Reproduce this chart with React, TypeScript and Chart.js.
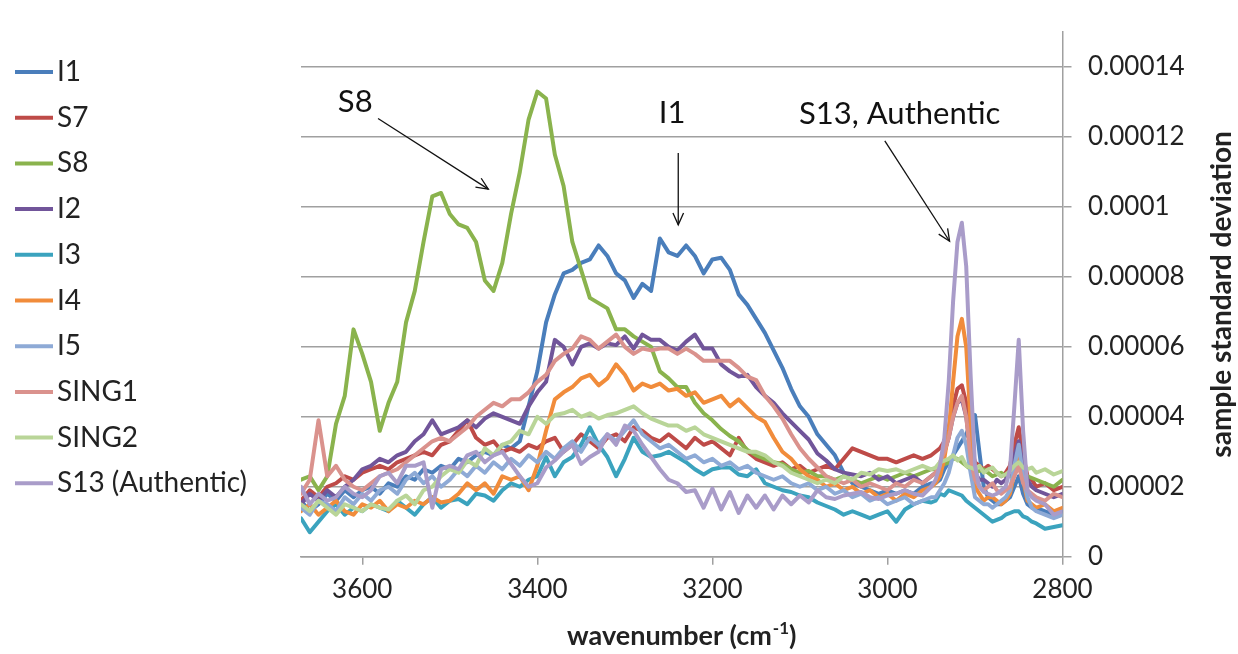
import React, { useEffect, useRef } from "react";
import { Chart, registerables } from "chart.js";

Chart.register(...registerables);

// x grid (cm^-1), finer sampling around the C-H peaks
const WAVENUMBERS = [
  3670, 3660, 3650, 3640, 3630, 3620, 3610, 3600, 3590, 3580,
  3570, 3560, 3550, 3540, 3530, 3520, 3510, 3500, 3490, 3480,
  3470, 3460, 3450, 3440, 3430, 3420, 3410, 3400, 3390, 3380,
  3370, 3360, 3350, 3340, 3330, 3320, 3310, 3300, 3290, 3280,
  3270, 3260, 3250, 3240, 3230, 3220, 3210, 3200, 3190, 3180,
  3170, 3160, 3150, 3140, 3130, 3120, 3110, 3100, 3090, 3080,
  3070, 3060, 3050, 3040, 3030, 3020, 3010, 3000, 2990, 2980,
  2970, 2960, 2950, 2945, 2940, 2935, 2930, 2925, 2920, 2915,
  2910, 2905, 2900, 2895, 2890, 2885, 2880, 2875, 2870, 2865,
  2860, 2855, 2850, 2845, 2840, 2835, 2830, 2820, 2810, 2800,
];

// values in units of 1e-5
const UNIT = 1e-5;

const I1 = [
  1.6, 1.3, 1.5, 1.8, 1.6, 1.9, 1.7, 1.9, 2.0, 1.8,
  2.1, 2.0, 2.3, 2.2, 2.5, 2.4, 2.6, 2.5, 2.8, 2.7,
  2.9, 3.0, 2.9, 3.2, 3.1, 3.3, 4.3, 5.3, 6.7, 7.5,
  8.1, 8.2, 8.4, 8.5, 8.9, 8.6, 8.1, 7.9, 7.4, 7.8,
  7.6, 9.1, 8.7, 8.6, 8.9, 8.6, 8.1, 8.5, 8.55, 8.2,
  7.5, 7.2, 6.8, 6.4, 5.9, 5.4, 4.8, 4.3, 4.0, 3.5,
  3.2, 2.9, 2.4, 2.1, 2.0, 1.9, 1.8, 1.9, 1.8, 1.9,
  1.8, 2.0, 2.1, 2.1, 2.2, 2.5, 2.7, 2.9, 3.1, 3.3,
  3.5, 3.8, 4.05, 3.0, 2.0, 1.7, 1.6, 1.5, 1.5, 1.6,
  1.7, 2.0, 2.3, 1.8, 1.5, 1.4, 1.4, 1.3, 1.2, 1.3,
];

const S7 = [
  1.6, 1.9, 1.7, 2.0, 2.1, 2.3, 2.2, 2.4, 2.5, 2.6,
  2.5, 2.7, 2.8, 2.9, 3.0, 2.9, 3.2, 3.3, 3.6, 3.9,
  3.4, 3.2, 3.3, 3.0, 3.1, 3.0, 3.2, 3.1, 3.3, 3.4,
  3.0, 3.2, 3.5, 3.3, 3.1, 3.4, 3.5, 3.3, 3.7, 3.6,
  3.4, 3.3, 3.5, 3.3, 3.1, 3.4, 3.2, 3.3, 3.1, 2.9,
  3.4, 3.0, 2.8, 2.7, 2.6, 2.7, 2.5, 2.6, 2.4, 2.5,
  2.6, 2.5, 2.8, 3.1, 3.0, 2.9, 2.8, 2.8, 2.7, 2.8,
  2.9, 2.8, 2.9, 3.0, 3.1, 3.3, 3.7, 4.3, 4.8, 4.9,
  4.4, 3.2, 2.7, 2.6, 2.5, 2.6, 2.5, 2.4, 2.3, 2.4,
  2.6, 3.2, 3.7, 2.9, 2.3, 2.2, 2.0, 2.1, 1.9, 2.0,
];

const S8 = [
  2.2, 2.3, 1.9, 2.3, 3.8, 4.6, 6.5, 5.8, 5.0, 3.6,
  4.4, 5.0, 6.7, 7.6, 9.0, 10.3, 10.4, 9.8, 9.5, 9.4,
  9.0, 7.9, 7.6, 8.4, 9.8, 11.0, 12.5, 13.3, 13.1, 11.5,
  10.6, 9.0, 8.2, 7.4, 7.25, 7.1, 6.5, 6.5, 6.3, 6.15,
  6.0, 5.3, 5.1, 4.85, 4.85, 4.4, 4.1, 3.9, 3.65, 3.45,
  3.3, 3.05, 2.9, 2.8, 2.7, 2.65, 2.5, 2.4, 2.45, 2.3,
  2.3, 2.2, 2.3, 2.2, 2.1, 2.2, 2.3, 2.2, 2.3, 2.4,
  2.3, 2.4, 2.5, 2.5, 2.6, 2.65, 2.7, 2.8, 2.8, 2.7,
  2.6, 2.5, 2.4, 2.45, 2.5, 2.4, 2.3, 2.35, 2.4, 2.3,
  2.3, 2.45, 2.6, 2.4, 2.3, 2.25, 2.2, 2.1, 2.0, 2.2,
];

const I2 = [
  1.5, 1.8, 1.6, 1.9, 1.7, 2.0, 2.2, 2.5, 2.6, 2.8,
  2.7, 2.9, 3.0, 3.3, 3.5, 3.9, 3.5, 3.6, 3.7, 3.9,
  3.7, 3.95, 4.1, 4.0, 3.9, 3.8, 4.3, 4.7, 5.0, 6.2,
  6.0, 5.5, 6.0, 6.1, 5.95, 6.1, 6.05, 6.3, 5.95, 6.35,
  6.2, 6.2, 6.0, 5.9, 6.15, 6.35, 5.95, 5.95, 5.5, 5.3,
  5.15, 5.2, 4.85, 4.6, 4.4, 4.1, 3.85, 3.6, 3.35, 2.95,
  2.75, 2.5, 2.4, 2.35, 2.3, 2.4, 2.2, 2.3, 2.1, 2.2,
  2.3, 2.1, 2.3, 2.4, 2.6, 3.0, 3.4, 4.0, 4.4, 4.5,
  4.0, 3.0, 2.4, 2.2, 2.2, 2.1, 2.0, 2.2, 2.1, 2.2,
  2.4, 2.9, 3.3, 2.6, 2.2, 2.0, 1.9, 1.8, 1.7, 1.8,
];

const I3 = [
  1.1, 0.7, 1.0, 1.3, 1.5, 1.2, 1.4, 1.3, 1.5, 1.4,
  1.3, 1.6, 1.4, 1.2, 1.5, 1.7, 1.4, 1.6, 1.65, 1.5,
  1.8, 1.75, 1.6, 1.9, 2.1, 2.0, 2.2, 2.3, 2.85, 2.3,
  2.7, 2.85, 3.2, 3.7, 3.2, 2.85, 2.3, 2.8, 3.4, 3.0,
  2.85, 2.9, 3.0, 2.85, 2.7, 2.5, 2.35, 2.5, 2.55, 2.55,
  2.35, 2.3, 2.5, 2.1, 2.0, 1.9, 1.85, 1.75, 1.7, 1.55,
  1.45, 1.35, 1.2, 1.3, 1.2, 1.1, 1.2, 1.3, 1.0, 1.35,
  1.5, 1.6, 1.55, 1.6, 1.8, 1.75, 1.9, 1.85, 1.8, 1.75,
  1.6, 1.5, 1.4, 1.3, 1.2, 1.1, 1.0, 1.05, 1.1, 1.2,
  1.25, 1.3, 1.3, 1.15, 1.1, 1.0, 0.95, 0.8, 0.85, 0.9,
];

const I4 = [
  1.3, 1.5, 1.2, 1.4, 1.6, 1.3, 1.2, 1.5, 1.4, 1.6,
  1.3, 1.5, 1.4, 1.6, 1.5, 1.7, 1.55, 1.6, 1.8, 2.1,
  1.9, 2.1, 1.8, 2.3, 2.2, 2.3, 1.9, 2.6, 3.6, 4.5,
  4.7, 4.85, 5.1, 5.2, 4.9, 5.1, 5.5, 5.2, 4.75, 4.95,
  4.85, 4.95, 4.75, 4.8, 4.6, 4.7, 4.4, 4.5, 4.6, 4.3,
  4.5, 4.25, 4.0, 3.85, 3.4, 3.0, 2.8, 2.5, 2.3, 2.2,
  2.0, 2.1, 1.9, 2.0, 1.8, 1.9, 1.7, 1.8, 1.6, 1.8,
  1.7, 1.9, 2.0, 2.1, 2.3, 2.8, 3.6, 5.0, 6.3, 6.8,
  6.0, 3.8, 2.0, 1.8, 1.6, 1.7, 1.7, 1.6, 1.5, 1.6,
  1.8, 2.4, 3.0, 2.2, 1.6, 1.5, 1.4, 1.5, 1.3, 1.4,
];

const I5 = [
  1.4, 1.2, 1.6, 1.5, 1.3, 1.7, 1.5, 1.8, 1.6, 1.9,
  2.0, 1.8, 2.2, 2.4, 2.1, 2.3, 2.0, 2.2, 2.5, 2.3,
  2.6, 2.4, 2.7, 2.5, 2.8, 2.6, 2.9, 2.7, 3.0, 2.8,
  3.1, 3.3, 3.0, 3.4, 3.2, 3.5, 3.3, 3.6, 3.9, 3.5,
  3.3, 3.1, 3.2, 3.0, 2.8, 2.9, 2.7, 2.8, 2.6, 2.7,
  2.5, 2.6, 2.4, 2.3, 2.2, 2.3, 2.1, 2.0, 2.1, 1.9,
  2.0, 1.8, 1.9, 1.7, 1.8, 1.6, 1.7, 1.5, 1.6, 1.7,
  1.5, 1.6, 1.7, 1.7, 1.9, 2.1, 2.4, 2.9, 3.4, 3.6,
  3.2, 2.4, 1.7, 1.6, 1.5, 1.5, 1.4, 1.5, 1.6, 1.7,
  1.9, 2.6, 3.2, 2.3, 1.7, 1.4, 1.3, 1.2, 1.1, 1.2,
];

const SING1 = [
  1.8, 2.2, 3.9, 2.3, 2.6, 2.2, 2.0, 1.9, 2.1, 2.3,
  2.4, 2.5, 2.7, 2.9, 3.1, 3.3, 3.4, 3.3, 3.5, 3.7,
  4.0, 4.2, 4.4, 4.3, 4.5, 4.5, 4.7, 5.0, 5.2, 5.6,
  5.8, 5.95, 6.3, 6.2, 5.95, 6.15, 6.35, 6.0, 5.8, 5.95,
  5.9, 5.95, 5.95, 5.8, 5.95, 5.8, 5.6, 5.6, 5.6, 5.6,
  5.4, 5.15, 5.05, 4.6, 4.3, 3.95, 3.5, 3.1, 2.8, 2.55,
  2.3, 2.2, 2.1, 2.2, 2.0, 2.1, 2.0, 1.9, 2.1, 2.0,
  2.2, 2.1, 2.3, 2.4, 2.7, 3.0, 3.4, 4.0, 4.4, 4.6,
  4.0, 2.8, 2.2, 2.0, 1.9, 2.0, 2.1, 1.9, 1.8, 1.9,
  2.0, 2.3, 2.6, 2.1, 1.9, 1.8, 1.7, 1.6, 1.8, 1.7,
];

const SING2 = [
  1.5, 1.3, 1.6, 1.4, 1.2, 1.5, 1.4, 1.3, 1.5, 1.4,
  1.35, 1.6, 1.75, 1.5, 1.9, 2.0, 2.3, 2.5, 2.4, 2.75,
  2.6, 3.1, 2.9, 3.2, 3.3, 3.6, 3.5, 4.0, 3.8, 4.05,
  4.1, 4.2, 4.0, 4.1, 3.95, 4.05, 4.1, 4.2, 4.3, 4.1,
  3.95, 3.85, 3.75, 3.75, 3.6, 3.7, 3.5, 3.4, 3.3, 3.2,
  3.1, 3.0, 3.0, 2.9, 2.7, 2.6, 2.4, 2.3, 2.2, 2.1,
  2.2, 2.1, 2.3, 2.2, 2.4, 2.35, 2.5, 2.45, 2.5, 2.4,
  2.5, 2.6, 2.5, 2.55, 2.7, 2.75, 2.8, 2.9, 2.75, 2.85,
  2.6, 2.55, 2.5, 2.6, 2.4, 2.5, 2.55, 2.4, 2.3, 2.35,
  2.45, 2.6, 2.7, 2.55, 2.5, 2.55, 2.4, 2.5, 2.35, 2.45,
];

const S13 = [
  2.0, 1.5, 1.8, 1.6, 1.7, 2.0, 1.8, 1.7, 1.9, 2.3,
  2.4, 2.1, 2.6, 2.6, 2.7, 1.4, 2.5, 2.6, 2.5, 2.9,
  3.0, 2.7, 2.9, 3.0, 2.65, 2.3, 2.0, 2.1, 2.55, 2.75,
  3.0, 3.2, 2.65, 2.85, 3.0, 3.5, 3.2, 3.75, 3.6, 3.2,
  2.85, 2.5, 2.2, 2.1, 1.85, 1.9, 1.4, 1.95, 1.35, 1.85,
  1.25, 1.75, 1.4, 1.75, 1.35, 1.75, 1.5, 1.75, 1.55, 1.9,
  1.7, 1.65, 1.75, 1.8, 1.85, 1.7, 1.65, 1.75, 1.8, 1.9,
  1.8, 1.75, 2.0, 2.2, 2.6, 3.4, 5.0, 7.3, 9.0, 9.55,
  8.3, 5.2, 2.6, 2.0, 1.85, 1.8, 1.75, 1.8, 1.9, 2.0,
  2.5, 4.3, 6.2, 3.6, 1.9, 1.7, 1.6, 1.5, 1.2, 1.3,
];

const SERIES_NAMES = ["I1", "S7", "S8", "I2", "I3", "I4", "I5", "SING1", "SING2", "S13 (Authentic)"];
const SERIES_VALUES = [I1, S7, S8, I2, I3, I4, I5, SING1, SING2, S13];
const SERIES_COLORS = [
  "#4A7EBB", "#BE4B48", "#8AB34D", "#71559A", "#3BA3BE",
  "#F18C3B", "#8EAAD6", "#DA928D", "#B9D598", "#A99CC9",
];

const X_TICKS = [3600, 3400, 3200, 3000, 2800];
const X_TICK_LABELS = ["3600", "3400", "3200", "3000", "2800"];
const Y_TICKS = [0, 0.00002, 0.00004, 0.00006, 0.00008, 0.0001, 0.00012, 0.00014];
const Y_TICK_LABELS = ["0", "0.00002", "0.00004", "0.00006", "0.00008", "0.0001", "0.00012", "0.00014"];

const X_TITLE_MAIN = "wavenumber (cm";
const X_TITLE_SUP = "-1";
const X_TITLE_END = ")";
const Y_TITLE = "sample standard deviation";

// annotations: label position and arrow (wavenumber, value in 1e-5)
const ANNOTATION_LABELS = ["S8", "I1", "S13, Authentic"];
const ANNOTATION_TEXT_AT = [[3608, 13.0], [3246, 12.7], [2986, 12.66]];
const ANNOTATION_ARROW_FROM = [[3582, 12.53], [3239, 11.54], [3003, 11.89]];
const ANNOTATION_ARROW_TO = [[3456, 10.51], [3239, 9.49], [2929, 9.02]];

const W = 1238;
const H = 654;
const TEXT = "#222222";
const GRID = "#a0a0a0";
const FONT = "Lato, 'Open Sans', sans-serif";
const LINE_W = 4;

function drawArrow(ctx: CanvasRenderingContext2D, x1: number, y1: number, x2: number, y2: number) {
  ctx.beginPath();
  ctx.moveTo(x1, y1);
  ctx.lineTo(x2, y2);
  ctx.stroke();
  const a = Math.atan2(y2 - y1, x2 - x1);
  const len = 13;
  const spread = 0.42;
  ctx.beginPath();
  ctx.moveTo(x2 - len * Math.cos(a - spread), y2 - len * Math.sin(a - spread));
  ctx.lineTo(x2, y2);
  ctx.lineTo(x2 - len * Math.cos(a + spread), y2 - len * Math.sin(a + spread));
  ctx.stroke();
}

const decorPlugin = {
  id: "decor",
  afterDatasetsDraw(chart: any) {
    const ctx = chart.ctx as CanvasRenderingContext2D;
    const xs = chart.scales.x;
    const ys = chart.scales.y;
    ctx.save();
    ctx.strokeStyle = "#111";
    ctx.fillStyle = "#111";
    ctx.lineWidth = 1.3;
    ctx.font = `31px ${FONT}`;
    ctx.textAlign = "center";
    ctx.textBaseline = "middle";
    ANNOTATION_LABELS.forEach((label, i) => {
      const [tx, ty] = ANNOTATION_TEXT_AT[i];
      ctx.fillText(label, xs.getPixelForValue(tx), ys.getPixelForValue(ty * UNIT));
      const [fx, fy] = ANNOTATION_ARROW_FROM[i];
      const [ex, ey] = ANNOTATION_ARROW_TO[i];
      drawArrow(
        ctx,
        xs.getPixelForValue(fx), ys.getPixelForValue(fy * UNIT),
        xs.getPixelForValue(ex), ys.getPixelForValue(ey * UNIT)
      );
    });
    ctx.restore();
  },
  afterDraw(chart: any) {
    const ctx = chart.ctx as CanvasRenderingContext2D;
    const area = chart.chartArea;
    ctx.save();
    // legend
    ctx.textAlign = "left";
    ctx.textBaseline = "middle";
    ctx.font = `28px ${FONT}`;
    chart.data.datasets.forEach((ds: any, i: number) => {
      const y = 72 + i * 45.7;
      ctx.strokeStyle = ds.borderColor;
      ctx.lineWidth = LINE_W;
      ctx.lineCap = "butt";
      ctx.beginPath();
      ctx.moveTo(15, y);
      ctx.lineTo(53, y);
      ctx.stroke();
      ctx.fillStyle = TEXT;
      ctx.fillText(ds.label, 57, y);
    });
    // x title with superscript
    ctx.fillStyle = TEXT;
    ctx.textBaseline = "alphabetic";
    const mainFont = `bold 27px ${FONT}`;
    const supFont = `bold 17px ${FONT}`;
    ctx.font = mainFont;
    const w1 = ctx.measureText(X_TITLE_MAIN).width;
    const w3 = ctx.measureText(X_TITLE_END).width;
    ctx.font = supFont;
    const w2 = ctx.measureText(X_TITLE_SUP).width;
    const total = w1 + w2 + w3 + 1;
    const cx = (area.left + area.right) / 2;
    let x = cx - total / 2;
    const base = 645;
    ctx.font = mainFont;
    ctx.fillText(X_TITLE_MAIN, x, base);
    x += w1 + 1;
    ctx.font = supFont;
    ctx.fillText(X_TITLE_SUP, x, base - 11);
    x += w2;
    ctx.font = mainFont;
    ctx.fillText(X_TITLE_END, x, base);
    // y title (reads bottom to top)
    ctx.translate(1222, (area.top + area.bottom) / 2);
    ctx.rotate(-Math.PI / 2);
    ctx.textAlign = "center";
    ctx.textBaseline = "middle";
    ctx.font = `bold 28px ${FONT}`;
    ctx.fillText(Y_TITLE, 0, 0);
    ctx.restore();
  },
};

export default function App() {
  const canvasRef = useRef<HTMLCanvasElement | null>(null);

  useEffect(() => {
    const canvas = canvasRef.current;
    if (!canvas) return;
    const n = SERIES_NAMES.length;
    const datasets = SERIES_NAMES.map((name, i) => ({
      label: name,
      data: WAVENUMBERS.map((wn, j) => ({ x: wn, y: SERIES_VALUES[i][j] * UNIT })),
      borderColor: SERIES_COLORS[i],
      backgroundColor: SERIES_COLORS[i],
      borderWidth: LINE_W,
      pointRadius: 0,
      tension: 0,
      fill: false,
      borderJoinStyle: "round" as const,
      borderCapStyle: "round" as const,
      order: n - i,
    }));

    const chart = new Chart(canvas, {
      type: "line",
      data: { datasets },
      options: {
        animation: false,
        responsive: false,
        maintainAspectRatio: false,
        devicePixelRatio: 1,
        layout: { padding: { left: 301, top: 12, right: 0, bottom: 0 } },
        plugins: {
          legend: { display: false },
          tooltip: { enabled: false },
          title: { display: false },
        },
        scales: {
          x: {
            type: "linear",
            position: "bottom",
            reverse: true,
            min: 2800,
            max: 3670,
            afterBuildTicks: (s: any) => {
              s.ticks = X_TICKS.map((value) => ({ value }));
            },
            afterFit: (s: any) => {
              s.height = H - 556.7;
            },
            grid: { drawOnChartArea: false, drawTicks: true, tickLength: 8, color: GRID, lineWidth: 1.5 },
            border: { display: true, color: GRID, width: 1.5 },
            ticks: {
              autoSkip: false,
              maxRotation: 0,
              padding: 9,
              color: TEXT,
              font: { family: FONT, size: 26 },
              callback: (_v: any, i: number) => X_TICK_LABELS[i],
            },
          },
          y: {
            type: "linear",
            position: "right",
            min: 0,
            max: 0.00015,
            afterBuildTicks: (s: any) => {
              s.ticks = Y_TICKS.map((value) => ({ value }));
            },
            afterFit: (s: any) => {
              s.width = W - 1062.5;
            },
            grid: { color: GRID, lineWidth: 1.5, tickLength: 9, drawTicks: true },
            border: { display: true, color: GRID, width: 1.5 },
            ticks: {
              padding: 16.5,
              color: TEXT,
              font: { family: FONT, size: 26 },
              callback: (_v: any, i: number) => Y_TICK_LABELS[i],
            },
          },
        },
      },
      plugins: [decorPlugin],
    } as any);

    return () => {
      chart.destroy();
    };
  }, []);

  return (
    <div style={{ position: "fixed", left: 0, top: 0, width: W, height: H, background: "#fff" }}>
      <canvas ref={canvasRef} width={W} height={H} style={{ display: "block", width: W, height: H }} />
    </div>
  );
}
